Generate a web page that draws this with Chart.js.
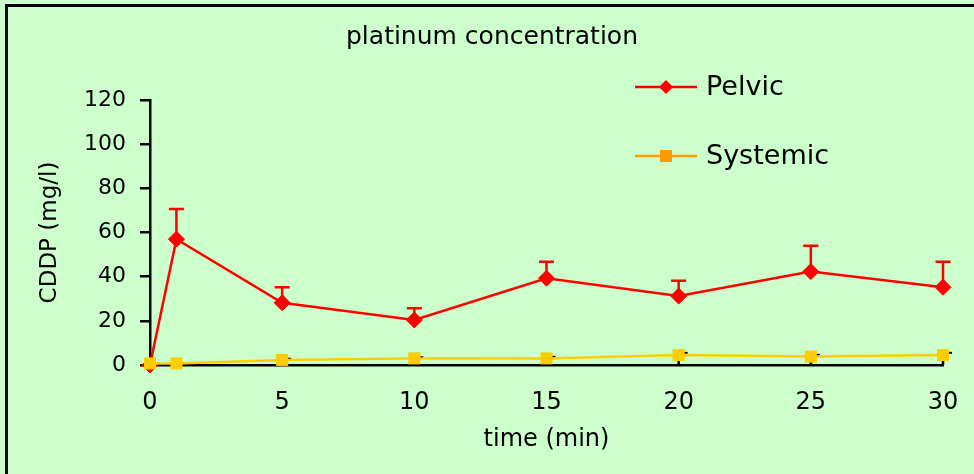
<!DOCTYPE html>
<html><head><meta charset="utf-8">
<script src="https://cdn.jsdelivr.net/npm/chart.js@4/dist/chart.umd.min.js"></script>
<style>html,body{margin:0;padding:0;background:#CCFFCC;overflow:hidden}#wrap{width:974px;height:474px;position:relative}</style>
</head><body><div id="wrap"><canvas id="c" width="974" height="474"></canvas></div>
<script>
const times = [0, 1, 5, 10, 15, 20, 25, 30];
const pelvic = [0, 57, 28.2, 20.4, 39.3, 31.2, 42.3, 35.2];
const pelvicErr = [0, 13.6, 7, 5.3, 7.5, 7, 11.7, 11.6];
const systemic = [0.7, 0.7, 2.3, 3.0, 3.0, 4.5, 3.8, 4.5];
const systemicErr = [0, 0, 0.5, 0.5, 0.7, 1, 0.8, 1];
const xTicks = [0, 5, 10, 15, 20, 25, 30];
const seriesNames = ['Pelvic', 'Systemic'];
const chartTitle = 'platinum concentration';
const xTitle = 'time (min)';
const yTitle = 'CDDP (mg/l)';

const FONT = '"DejaVu Sans", "Liberation Sans", sans-serif';
const RED = '#FF0000', GOLD = '#FFCC00', ORANGE = '#FF9900';

const decor = {
  id: 'decor',
  beforeDraw(chart) {
    const ctx = chart.ctx;
    ctx.save();
    ctx.fillStyle = '#CCFFCC';
    ctx.fillRect(0, 0, chart.width, chart.height);
    ctx.fillStyle = '#000';
    ctx.fillRect(5, 4, 3, chart.height - 4);
    ctx.fillRect(5, 4, chart.width - 5, 3);
    ctx.restore();
  },
  beforeDatasetsDraw(chart) {
    const ctx = chart.ctx, xs = chart.scales.x, ys = chart.scales.y;
    ctx.save();
    ctx.strokeStyle = '#000'; ctx.lineWidth = 2.5;
    xTicks.forEach(v => {
      const px = xs.getPixelForValue(v);
      ctx.beginPath(); ctx.moveTo(px, ys.bottom); ctx.lineTo(px, ys.bottom - 6); ctx.stroke();
    });
    ctx.strokeStyle = RED; ctx.lineWidth = 2.5;
    times.forEach((t, i) => {
      if (!pelvicErr[i]) return;
      const px = xs.getPixelForValue(t);
      const y0 = ys.getPixelForValue(pelvic[i]);
      const y1 = ys.getPixelForValue(pelvic[i] + pelvicErr[i]);
      ctx.beginPath(); ctx.moveTo(px, y0); ctx.lineTo(px, y1);
      ctx.moveTo(px - 7.5, y1); ctx.lineTo(px + 7.5, y1); ctx.stroke();
    });
    ctx.strokeStyle = '#000'; ctx.lineWidth = 2;
    times.forEach((t, i) => {
      if (!systemicErr[i]) return;
      const px = xs.getPixelForValue(t);
      const y1 = ys.getPixelForValue(systemic[i] + systemicErr[i]);
      ctx.beginPath(); ctx.moveTo(px - 2, y1); ctx.lineTo(px + 9, y1); ctx.stroke();
    });
    ctx.restore();
  },
  afterDraw(chart) {
    const ctx = chart.ctx;
    ctx.save();
    ctx.fillStyle = '#000';
    ctx.font = '25px ' + FONT;
    ctx.textBaseline = 'middle'; ctx.textAlign = 'center';
    ctx.fillText(chartTitle, 492, 37);
    const items = [
      {name: seriesNames[0], color: RED, y: 87, shape: 'diamond'},
      {name: seriesNames[1], color: ORANGE, y: 156, shape: 'square'}
    ];
    items.forEach(it => {
      ctx.strokeStyle = it.color; ctx.fillStyle = it.color; ctx.lineWidth = 2.5;
      ctx.beginPath(); ctx.moveTo(635, it.y); ctx.lineTo(697, it.y); ctx.stroke();
      const cx = 666;
      if (it.shape === 'diamond') {
        ctx.beginPath(); ctx.moveTo(cx, it.y - 7); ctx.lineTo(cx + 7, it.y); ctx.lineTo(cx, it.y + 7); ctx.lineTo(cx - 7, it.y); ctx.closePath(); ctx.fill();
      } else {
        ctx.fillRect(cx - 6, it.y - 6, 12, 12);
      }
      ctx.fillStyle = '#000';
      ctx.font = '27px ' + FONT;
      ctx.textBaseline = 'middle'; ctx.textAlign = 'left';
      ctx.fillText(it.name, 706, it.y + 1);
    });
    ctx.restore();
  }
};

new Chart(document.getElementById('c'), {
  type: 'line',
  data: {
    datasets: [
      {
        label: seriesNames[0],
        data: times.map((t, i) => ({x: t, y: pelvic[i]})),
        borderColor: RED, backgroundColor: RED, borderWidth: 2.5,
        pointStyle: 'rectRot', pointRadius: 8, pointBorderWidth: 1,
        tension: 0, clip: false, order: 2
      },
      {
        label: seriesNames[1],
        data: times.map((t, i) => ({x: t, y: systemic[i]})),
        borderColor: GOLD, backgroundColor: GOLD, borderWidth: 2.5,
        pointStyle: 'rect', pointRadius: 8.5, pointBorderWidth: 0,
        tension: 0, clip: false, order: 1
      }
    ]
  },
  options: {
    responsive: false, animation: false, devicePixelRatio: 1,
    layout: {padding: {left: 8, right: 31, top: 100, bottom: 0}},
    plugins: {
      legend: {display: false},
      tooltip: {enabled: false},
      title: {display: false}
    },
    scales: {
      x: {
        type: 'linear', min: 0, max: 30, position: 'bottom',
        afterBuildTicks: s => { s.ticks = xTicks.map(v => ({value: v})); },
        afterFit: s => { s.height = 109; s.paddingRight = 0; s.paddingLeft = 0; },
        grid: {display: true, drawOnChartArea: false, drawTicks: false},
        border: {display: true, color: '#000', width: 2.5},
        ticks: {color: '#000', font: {family: FONT, size: 24}, padding: 23, maxRotation: 0, autoSkip: false},
        title: {display: true, text: xTitle, color: '#000', font: {family: FONT, size: 24}, padding: {top: 0, bottom: 20}}
      },
      y: {
        type: 'linear', min: 0, max: 120, position: 'left',
        afterFit: s => { s.width = 142; s.paddingTop = 0; s.paddingBottom = 0; },
        grid: {display: true, drawOnChartArea: false, drawTicks: true, tickLength: 10, color: '#000', lineWidth: 2.5},
        border: {display: true, color: '#000', width: 2.5},
        ticks: {stepSize: 20, color: '#000', font: {family: FONT, size: 22}, padding: 14},
        title: {display: true, text: yTitle, color: '#000', font: {family: FONT, size: 23}, padding: {top: 28, bottom: 0}}
      }
    }
  },
  plugins: [decor]
});
</script>
</body></html>
